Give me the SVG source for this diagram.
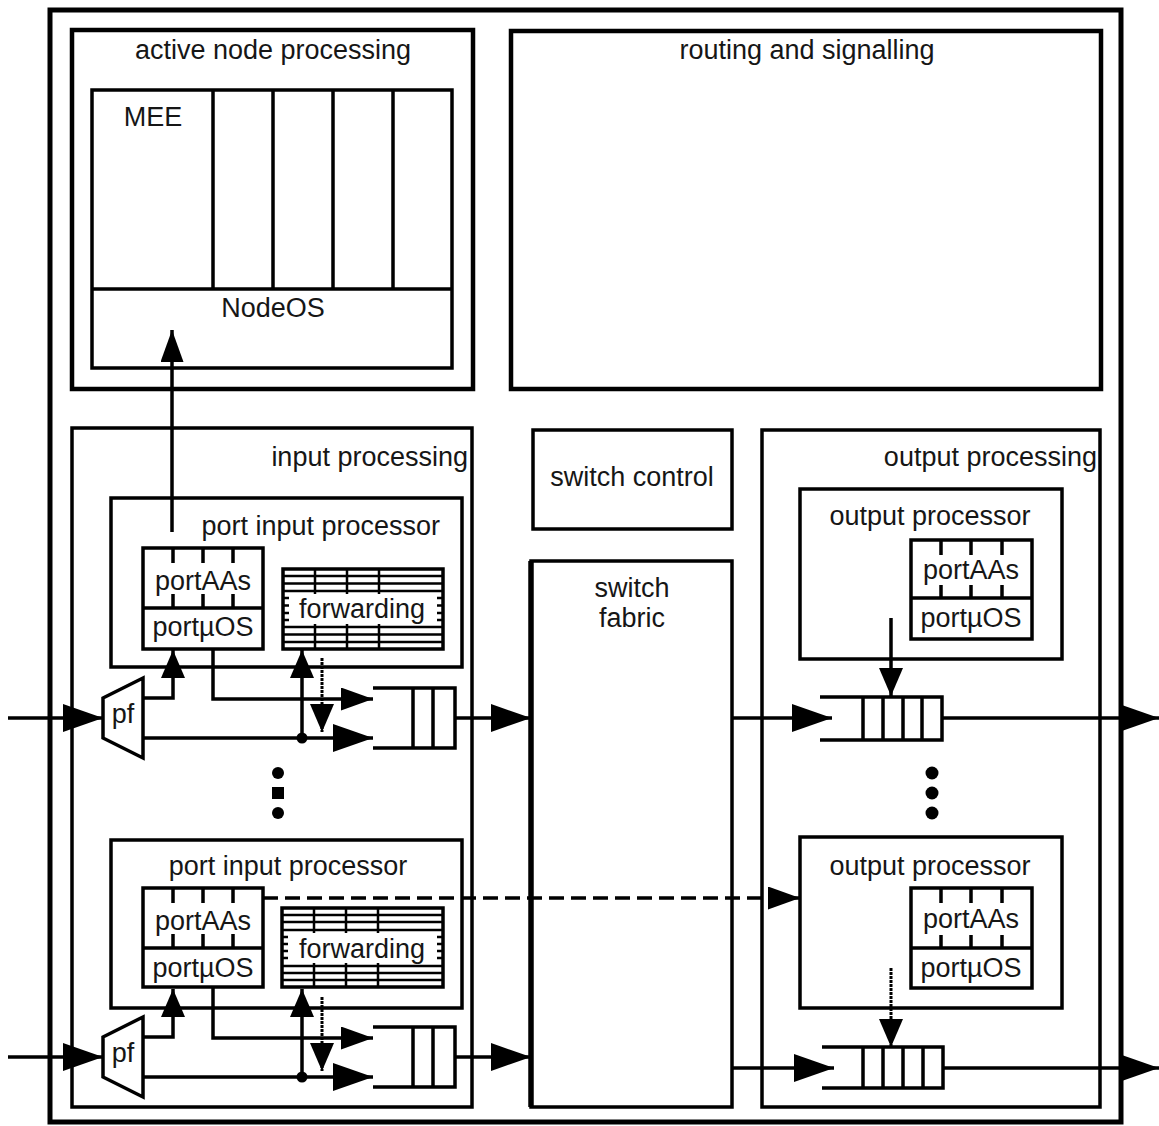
<svg xmlns="http://www.w3.org/2000/svg" width="1159" height="1126" viewBox="0 0 1159 1126">
<style>
.b{fill:none;stroke:#000;stroke-width:3.5}
.tb{fill:none;stroke:#000;stroke-width:4.5}
.th{fill:none;stroke:#000;stroke-width:2.5}
.c{fill:none;stroke:#000;stroke-width:3.5}
.d{fill:none;stroke:#000;stroke-width:3.5;stroke-dasharray:15 7}
.dt{fill:none;stroke:#000;stroke-width:3;stroke-dasharray:3 1}
.t{font-family:"Liberation Sans",Arial,sans-serif;font-size:27px;fill:#161616;text-anchor:middle}
.e{text-anchor:end}
.w{fill:#fff;stroke:none}
</style>
<defs>
<marker id="big" markerUnits="userSpaceOnUse" viewBox="0 0 40 28" markerWidth="40" markerHeight="28" refX="40" refY="14" orient="auto"><path d="M0,0 L40,14 L0,28 Z" fill="#000"/></marker>
<marker id="med" markerUnits="userSpaceOnUse" viewBox="0 0 32 23" markerWidth="32" markerHeight="23" refX="32" refY="11.5" orient="auto"><path d="M0,0 L32,11.5 L0,23 Z" fill="#000"/></marker>
<marker id="sm" markerUnits="userSpaceOnUse" viewBox="0 0 28 24" markerWidth="28" markerHeight="24" refX="28" refY="12" orient="auto"><path d="M0,0 L28,12 L0,24 Z" fill="#000"/></marker>
</defs>
<rect width="1159" height="1126" fill="#fff"/>

<g id="outer"><rect x="50" y="10" width="1071" height="1112" fill="none" stroke="#000" stroke-width="5"/></g>

<g id="active-node-processing">
<rect class="tb" x="72" y="30" width="401" height="359"/>
<text class="t" x="273" y="59">active node processing</text>
<rect class="b" x="92" y="90" width="360" height="278"/>
<path class="b" d="M213,90V289M273,90V289M333,90V289M393,90V289M92,289H452"/>
<text class="t" x="153" y="126">MEE</text>
<text class="t" x="273" y="317">NodeOS</text>
</g>

<g id="routing-and-signalling">
<rect class="tb" x="511" y="31" width="590" height="358"/>
<text class="t" x="807" y="59">routing and signalling</text>
</g>

<g id="input-processing">
<rect class="b" x="72" y="428" width="400" height="679"/>
<text class="t e" x="468" y="466">input processing</text>
</g>

<g id="switch-control">
<rect class="b" x="533" y="430" width="199" height="99"/>
<text class="t" x="632" y="486">switch control</text>
</g>

<g id="switch-fabric">
<rect class="b" x="531" y="561" width="201" height="546"/>
<path d="M531,561V1107" stroke="#000" stroke-width="5.5"/>
<text class="t" x="632" y="597">switch</text>
<text class="t" x="632" y="627">fabric</text>
</g>

<g id="output-processing">
<rect class="b" x="762" y="430" width="338" height="677"/>
<text class="t e" x="1097" y="466">output processing</text>
</g>

<g id="port-input-processor-1">
<rect class="b" x="111" y="498" width="351" height="169"/>
<text class="t e" x="440" y="535">port input processor</text>
<rect class="b" x="143" y="548" width="120" height="101"/>
<path class="b" d="M143,608H263M173,548V563M203,548V563M233,548V563M173,594V608M203,594V608M233,594V608"/>
<text class="t" x="203" y="590">portAAs</text>
<text class="t" x="203" y="636">portµOS</text>
<path class="th" d="M283,576H443M283,583.5H443M283,591H443M283,598H443M283,605.5H443M283,613H443M283,620H443M283,627H443M283,634.5H443M283,642H443M315,569V649M347,569V649M379,569V649"/>
<rect class="w" x="289" y="594" width="148" height="30"/>
<rect class="b" x="283" y="569" width="160" height="80"/>
<text class="t" x="362" y="618">forwarding</text>
</g>

<g id="pf-1">
<polygon class="b" points="103,698 143,678 143,758 103,738" stroke-width="4"/>
<text class="t" x="123" y="723">pf</text>
</g>

<g id="queue-in-1">
<path class="b" stroke-width="4" d="M373,688H455V748H373M413,688V748M433,688V748"/>
</g>

<g id="port-input-processor-2">
<rect class="b" x="111" y="840" width="351" height="168"/>
<text class="t" x="288" y="875">port input processor</text>
<rect class="b" x="143" y="888" width="120" height="99"/>
<path class="b" d="M143,948H263M173,888V903M203,888V903M233,888V903M173,934V948M203,934V948M233,934V948"/>
<text class="t" x="203" y="930">portAAs</text>
<text class="t" x="203" y="977">portµOS</text>
<path class="th" d="M282,915H443M282,922H443M282,930H443M282,937H443M282,944H443M282,951H443M282,958H443M282,966H443M282,973H443M282,980H443M314,908V987M346,908V987M378,908V987"/>
<rect class="w" x="288" y="933" width="149" height="30"/>
<rect class="b" x="282" y="908" width="161" height="79"/>
<text class="t" x="362" y="958">forwarding</text>
</g>

<g id="pf-2">
<polygon class="b" points="103,1037 143,1017 143,1097 103,1077" stroke-width="4"/>
<text class="t" x="123" y="1062">pf</text>
</g>

<g id="queue-in-2">
<path class="b" stroke-width="4" d="M373,1027H455V1087H373M413,1027V1087M433,1027V1087"/>
</g>

<g id="output-processor-1">
<rect class="b" x="800" y="489" width="262" height="170"/>
<text class="t" x="930" y="525">output processor</text>
<rect class="b" x="911" y="540" width="121" height="99"/>
<path class="b" d="M911,598H1032M941,540V555M971,540V555M1002,540V555M941,585V598M971,585V598M1002,585V598"/>
<text class="t" x="971" y="579">portAAs</text>
<text class="t" x="971" y="627">portµOS</text>
</g>

<g id="queue-out-1">
<path class="b" stroke-width="4" d="M820,697H942V740H820M863,697V740M883,697V740M903,697V740M922,697V740"/>
</g>

<g id="output-processor-2">
<rect class="b" x="800" y="837" width="262" height="171"/>
<text class="t" x="930" y="875">output processor</text>
<rect class="b" x="911" y="888" width="121" height="100"/>
<path class="b" d="M911,948H1032M941,888V903M971,888V903M1002,888V903M941,935V948M971,935V948M1002,935V948"/>
<text class="t" x="971" y="928">portAAs</text>
<text class="t" x="971" y="977">portµOS</text>
</g>

<g id="queue-out-2">
<path class="b" stroke-width="4" d="M822,1047H943V1088H822M863,1047V1088M883,1047V1088M903,1047V1088M923,1047V1088"/>
</g>

<g id="ellipsis">
<circle cx="278" cy="773" r="6"/><rect x="272" y="787" width="12" height="12"/><circle cx="278" cy="813" r="6"/>
<circle cx="932" cy="773" r="6.5"/><circle cx="932" cy="793" r="6.5"/><circle cx="932" cy="813" r="6.5"/>
</g>

<g id="connectors">
<path class="c" d="M172,532V330" marker-end="url(#med)"/>
<path class="c" d="M8,718H103" marker-end="url(#big)"/>
<path class="c" d="M143,698H173V650" marker-end="url(#sm)"/>
<path class="c" d="M213,649V699H373" marker-end="url(#med)"/>
<path class="c" d="M143,738H373" marker-end="url(#big)"/>
<circle cx="302" cy="738" r="5.5"/>
<path class="c" d="M302,738V650" marker-end="url(#sm)"/>
<path class="dt" d="M322,658V732" marker-end="url(#sm)"/>
<path class="c" d="M455,718H531" marker-end="url(#big)"/>

<path class="c" d="M8,1057H103" marker-end="url(#big)"/>
<path class="c" d="M143,1037H173V989" marker-end="url(#sm)"/>
<path class="c" d="M213,988V1038H373" marker-end="url(#med)"/>
<path class="c" d="M143,1077H373" marker-end="url(#big)"/>
<circle cx="302" cy="1077" r="5.5"/>
<path class="c" d="M302,1077V989" marker-end="url(#sm)"/>
<path class="dt" d="M322,997V1071" marker-end="url(#sm)"/>
<path class="c" d="M455,1057H531" marker-end="url(#big)"/>

<path class="d" d="M263,898H800" marker-end="url(#med)"/>

<path class="c" d="M732,718H832" marker-end="url(#big)"/>
<path class="c" d="M891,618V696" marker-end="url(#sm)"/>
<path class="c" d="M942,718H1159" marker-end="url(#big)"/>
<path class="c" d="M732,1068H834" marker-end="url(#big)"/>
<path class="dt" d="M891,968V1047" marker-end="url(#sm)"/>
<path class="c" d="M943,1068H1159" marker-end="url(#big)"/>
</g>
</svg>
